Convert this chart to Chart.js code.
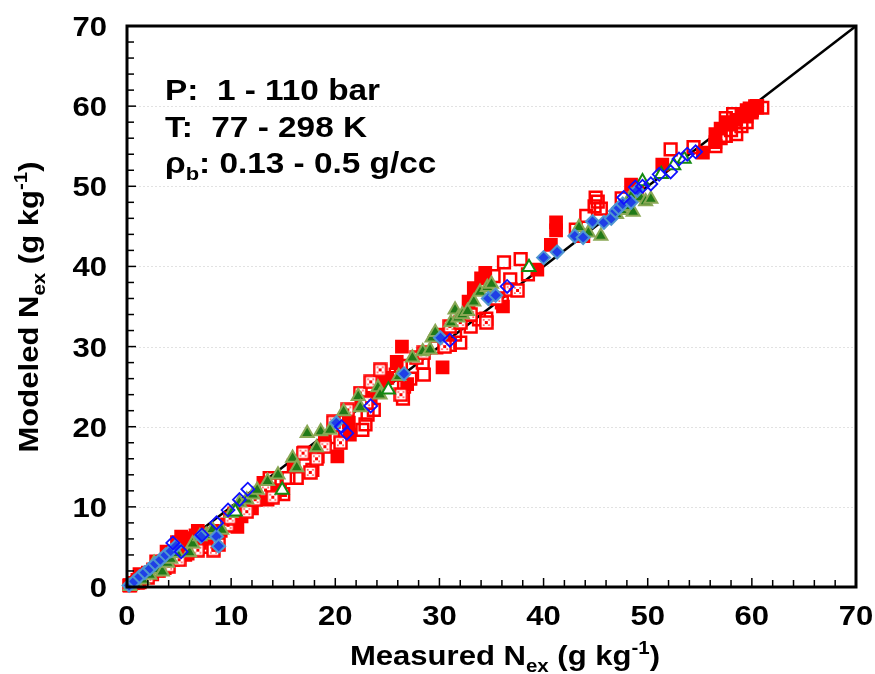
<!DOCTYPE html>
<html>
<head>
<meta charset="utf-8">
<script src="https://cdn.jsdelivr.net/npm/chart.js@4.4.0/dist/chart.umd.min.js"></script>
<style>
  html, body { margin: 0; padding: 0; background: #fff; }
</style>
</head>
<body>
<canvas id="parity-chart" width="875" height="674"></canvas>
<script>
// axis range and labels
const axisMin = 0;
const axisMax = 70;
const tickLabels = [0, 10, 20, 30, 40, 50, 60, 70];
const minorStep = 2;

// red open squares
const redOpenX = [0.3, 1.2, 2.4, 3.6, 4.4, 5.8, 7.4, 6.6, 13.7, 14.2, 15.5, 16.3, 15, 17.8, 13.2,
  18.3, 19.8, 22.9, 23.1, 23.7, 22.6, 25.8, 26.3, 28.4, 28.5, 26.5, 26.6, 27.2,
  29.7, 31, 31.5, 32, 33, 33.8, 34.5, 36, 35.2, 36.2, 37.8, 36.8, 38.5,
  43.1, 43.8, 44.1, 44.9, 45.2, 45.5, 45, 47.5, 48.9, 52.2, 54.4,
  56.5, 57, 57.5, 57.5, 58, 58.2, 58.5, 59, 59.5, 59.8, 60, 60.5, 61];
const redOpenY = [0.2, 0.6, 1.6, 2.4, 3.4, 4.2, 5, 6.4, 13.6, 12.8, 13.6, 13.6, 11.6, 14.6, 11,
  16.3, 18.7, 20.3, 21.5, 22.1, 19.6, 26.5, 27.6, 28, 26.5, 23.5, 25, 26,
  29.9, 30.2, 31.5, 30.5, 32.5, 33.4, 33.5, 35.5, 38.8, 40.5, 40.9, 38.4, 39,
  44.6, 43.8, 46.3, 47.5, 48.1, 47.2, 48.6, 48.5, 49.5, 54.6, 54.9,
  55, 56, 56.3, 58.5, 57, 59, 56.5, 57.5, 58, 59.7, 59.5, 60, 59.8];

// red filled squares
const redFillX = [0.2, 0.6, 1, 1.5, 2, 2.5, 3, 3.5, 4, 4.5, 5, 5.5, 6, 6.5, 5.2, 4.8, 7, 7.6, 6.2, 5.6, 9.6, 10.6, 10.3, 11,
  1.2, 2.8, 3.8, 6.8, 8, 9, 11.5, 12,
  12.6, 13.1, 13.5, 14.7, 14.2, 16, 17, 19, 20.2, 21.4, 21.3, 22.5, 23.4, 24.2, 24.7, 25, 25.9, 26.4, 26.9, 30.3,
  30.5, 32.8, 33.3, 34, 34.4, 36.1, 39.4, 40.7, 41.2, 41.2, 48.4, 49, 51.4, 55.3,
  56.5, 56.5, 57, 57.5, 58, 58.5, 59, 59.5, 59.5, 60, 60.3, 60.5];
const redFillY = [0.2, 0.5, 0.9, 1.2, 1.8, 2.2, 2.7, 3.2, 3.6, 4.1, 4.6, 5.2, 5.8, 6.1, 6.3, 5.6, 5.5, 6.6, 4.8, 4, 7.8, 7.5, 9.2, 8.8,
  1.6, 3.2, 4.4, 7, 6, 7, 10, 9.8,
  11, 13, 10.9, 12.1, 11.8, 15.2, 16.8, 18.4, 16.3, 19, 20.5, 22.8, 23.6, 25, 26.1, 26.1, 28.1, 30, 25.3, 27.4,
  31.5, 35.6, 37.3, 38.5, 39.2, 35, 39.6, 42.7, 45.5, 44.5, 50.2, 49.5, 52.7, 54.2,
  55.5, 56.5, 57.2, 58, 57.7, 58.3, 58.8, 58.7, 59.5, 59.2, 60, 59.8];

// red patterned squares
const redDotX = [1, 2, 3, 4, 5, 6.8, 8.3, 8.8, 9.7, 9.9, 11.5, 12.3, 13.3, 14,
  16.9, 17.6, 18.2, 19, 19.8, 20.5, 21.2, 22.4, 23, 23.4, 24.3, 26.3, 27.8, 28.5,
  30.5, 31, 32, 33, 34.5, 35.5, 36.8, 37.5];
const redDotY = [0.6, 1.2, 2, 2.6, 3.4, 4.6, 4.6, 5.3, 7.7, 8.6, 9.4, 10.9, 12.1, 11.2,
  16.7, 14.3, 16, 17.5, 20.6, 18, 22.1, 24.2, 23, 25.6, 27.1, 24, 28.6, 29.2,
  30, 32.5, 33, 34, 33, 36, 37.1, 37];

// green patterned triangles
const greenX = [0.3, 0.8, 1.5, 2.2, 3, 3.4, 3.9, 4.2, 4.8, 2.6, 6, 6.3, 7, 7.6, 8.2, 9.1, 10, 10.8, 11.5, 12.1, 12.5, 13.5, 14.5,
  15.9, 16.3, 17.3, 18.2, 18.6, 19.5, 20.8, 22.2, 22.4, 24.1, 24.3, 26.1, 27.4, 28.4, 29.1, 29.3,
  29.6, 31.1, 31.5, 31.8, 32.2, 32.7, 33.3, 33.9, 34.6, 35,
  43.4, 44.3, 45.5, 47, 47.5, 48, 48.4, 48.6, 49.3, 49.8, 50.3];
const greenY = [0.1, 0.5, 0.9, 1.5, 2.2, 1.9, 3, 3.5, 4.2, 3, 4.3, 5.4, 6.3, 6.5, 7.2, 7.1, 9.2, 10.5, 10.9, 11.5, 12.1, 13.2, 14,
  16.1, 14.9, 19.2, 17.4, 19.4, 19.6, 21.9, 23.8, 22.4, 24.9, 24, 26.3, 28.6, 29.4, 29.6, 31.1,
  31.8, 33, 34.6, 33.6, 34, 34.4, 35.6, 36.8, 37.4, 37.8,
  44.9, 44.2, 43.8, 46.5, 47, 47.5, 48.8, 46.8, 48.6, 48.1, 48.4];

// green open triangles
const greenOpenX = [10.4, 14.9, 25.1, 38.6, 49.5, 51.3, 52.5, 53.5];
const greenOpenY = [9.4, 12.1, 24.6, 39.9, 50.6, 51.5, 52.6, 53.4];

// blue patterned diamonds
const blueX = [0.2, 0.7, 1.2, 1.7, 2.2, 2.7, 3.2, 3.7, 4.2, 4.7, 7.1, 8.6, 8.8,
  20.1, 26.6, 30.1, 34.7, 35.4, 40, 41.3, 43, 43.8, 44.7, 45.8, 46.5, 46.9, 47.2, 47.6, 48.4, 49];
const blueY = [0.2, 0.7, 1.3, 1.8, 2.3, 2.9, 3.4, 4, 4.5, 5.1, 6.3, 6.3, 5.1,
  20.5, 26.6, 31.1, 36, 36.4, 41.1, 41.8, 43.8, 43.6, 45.6, 45.5, 46, 46.9, 47.3, 47.8, 48, 49.5];

// blue open diamonds
const blueOpenX = [4.4, 5.2, 7.2, 8.6, 9.7, 10.8, 11.6, 20.6, 21.1, 23.4, 31, 36.5,
  47.7, 48.8, 49.5, 50.3, 51.1, 52.2, 53, 53.8, 54.6];
const blueOpenY = [5.5, 4.4, 6.5, 8, 9.6, 10.9, 12.2, 20, 19.2, 22.6, 30.8, 37.5,
  48.6, 49.9, 50, 50.3, 51.5, 51.8, 53.4, 54, 54.3];

// 1:1 line
const parityX = [0, 70];
const parityY = [0, 70];

const notes = [
  [['P:  1 - 110 bar', '']],
  [['T:  77 - 298 K', '']],
  [['\u03C1', ''], ['b', 'sub'], [': 0.13 - 0.5 g/cc', '']]
];
const xTitle = [['Measured N', ''], ['ex', 'sub'], [' (g kg', ''], ['-1', 'sup'], [')', '']];
const yTitle = [['Modeled N', ''], ['ex', 'sub'], [' (g kg', ''], ['-1', 'sup'], [')', '']];

function toPoints(xs, ys) {
  return xs.map((v, i) => ({ x: v, y: ys[i] }));
}

// square with a white centre and red dots, like the excel pattern fill
function dotSquare() {
  const c = document.createElement('canvas');
  c.width = 15; c.height = 15;
  const g = c.getContext('2d');
  g.fillStyle = '#fff';
  g.fillRect(1, 1, 13, 13);
  g.strokeStyle = '#ff0000';
  g.lineWidth = 2.5;
  g.strokeRect(1.5, 1.5, 12, 12);
  g.fillStyle = '#ff0000';
  g.fillRect(6, 6, 3, 3);
  g.fillRect(4.2, 4.2, 1.4, 1.4);
  g.fillRect(9.4, 4.2, 1.4, 1.4);
  g.fillRect(4.2, 9.4, 1.4, 1.4);
  g.fillRect(9.4, 9.4, 1.4, 1.4);
  return c;
}

const FONT = '"Liberation Sans", Arial, sans-serif';
const STRETCH = 1.15;

function drawRich(ctx, parts, size, align) {
  let total = 0;
  const runs = parts.map(([t, k]) => {
    const fs = k ? size * 0.66 : size;
    ctx.font = 'bold ' + fs + 'px ' + FONT;
    const w = ctx.measureText(t).width;
    total += w;
    return { t, k, fs, w };
  });
  let cx = align === 'center' ? -total / 2 : (align === 'right' ? -total : 0);
  ctx.textAlign = 'left';
  ctx.textBaseline = 'alphabetic';
  ctx.fillStyle = '#000';
  runs.forEach(r => {
    ctx.font = 'bold ' + r.fs + 'px ' + FONT;
    const dy = r.k === 'sub' ? size * 0.25 : (r.k === 'sup' ? -size * 0.4 : 0);
    ctx.fillText(r.t, cx, dy);
    cx += r.w;
  });
}

const framePlugin = {
  id: 'frame',
  beforeDatasetsDraw(chart) {
    const { ctx, chartArea: a, scales: { y } } = chart;
    ctx.save();
    ctx.strokeStyle = '#e2e2e2';
    ctx.lineWidth = 1;
    ctx.setLineDash([2, 2]);
    tickLabels.slice(1, -1).forEach(v => {
      const py = Math.round(y.getPixelForValue(v)) + 0.5;
      ctx.beginPath();
      ctx.moveTo(a.left, py);
      ctx.lineTo(a.right, py);
      ctx.stroke();
    });
    ctx.restore();
  },
  afterDatasetsDraw(chart) {
    const { ctx, chartArea: a, scales: { x, y } } = chart;
    ctx.save();
    ctx.strokeStyle = '#000';
    ctx.lineWidth = 3;
    ctx.strokeRect(a.left, a.top, a.right - a.left, a.bottom - a.top);
    // inward ticks every 2 units
    ctx.lineWidth = 1.5;
    for (let v = axisMin; v <= axisMax; v += minorStep) {
      const len = v % 10 === 0 ? 9 : 7;
      const px = x.getPixelForValue(v);
      ctx.beginPath();
      ctx.moveTo(px, a.bottom);
      ctx.lineTo(px, a.bottom - len);
      ctx.stroke();
      const py = y.getPixelForValue(v);
      ctx.beginPath();
      ctx.moveTo(a.left, py);
      ctx.lineTo(a.left + len, py);
      ctx.stroke();
    }
    ctx.restore();
  },
  afterDraw(chart) {
    const { ctx, chartArea: a, scales: { x, y } } = chart;
    ctx.save();
    // tick labels
    tickLabels.forEach(v => {
      ctx.save();
      ctx.translate(x.getPixelForValue(v), a.bottom + 38);
      ctx.scale(STRETCH, 1);
      drawRich(ctx, [[String(v), '']], 27, 'center');
      ctx.restore();
      ctx.save();
      ctx.translate(a.left - 20, y.getPixelForValue(v) + 10);
      ctx.scale(STRETCH, 1);
      drawRich(ctx, [[String(v), '']], 27, 'right');
      ctx.restore();
    });
    // axis titles
    ctx.save();
    ctx.translate(505, 665);
    ctx.scale(STRETCH, 1);
    drawRich(ctx, xTitle, 27, 'center');
    ctx.restore();
    ctx.save();
    ctx.translate(38, 307);
    ctx.rotate(-Math.PI / 2);
    ctx.scale(STRETCH, 1);
    drawRich(ctx, yTitle, 27, 'center');
    ctx.restore();
    // condition notes
    notes.forEach((parts, i) => {
      ctx.save();
      ctx.translate(165, 100 + i * 36.5);
      ctx.scale(STRETCH, 1);
      drawRich(ctx, parts, 29, 'left');
      ctx.restore();
    });
    ctx.restore();
  }
};

const ctx = document.getElementById('parity-chart').getContext('2d');
new Chart(ctx, {
  type: 'scatter',
  data: {
    datasets: [
      {
        label: 'blue open',
        data: toPoints(blueOpenX, blueOpenY),
        pointStyle: 'rectRot',
        pointRadius: 6.5,
        borderWidth: 1.8,
        borderColor: '#1010ff',
        backgroundColor: 'rgba(255,255,255,0)'
      },
      {
        label: 'blue',
        data: toPoints(blueX, blueY),
        pointStyle: 'rectRot',
        pointRadius: 6.5,
        borderWidth: 2,
        borderColor: '#4f96d0',
        backgroundColor: '#1f3fe6'
      },
      {
        label: 'green open',
        data: toPoints(greenOpenX, greenOpenY),
        pointStyle: 'triangle',
        pointRadius: 7.5,
        borderWidth: 2,
        borderColor: '#128a12',
        backgroundColor: '#ffffff'
      },
      {
        label: 'green',
        data: toPoints(greenX, greenY),
        pointStyle: 'triangle',
        pointRadius: 7.5,
        borderWidth: 2,
        borderColor: '#8aa856',
        backgroundColor: '#207a18'
      },
      {
        label: 'red dotted',
        data: toPoints(redDotX, redDotY),
        pointStyle: dotSquare(),
        pointRadius: 7.5
      },
      {
        label: 'red open',
        data: toPoints(redOpenX, redOpenY),
        pointStyle: 'rect',
        pointRadius: 8.3,
        borderWidth: 2.5,
        borderColor: '#ff0000',
        backgroundColor: 'rgba(255,255,255,0)'
      },
      {
        label: 'red filled',
        data: toPoints(redFillX, redFillY),
        pointStyle: 'rect',
        pointRadius: 8.3,
        borderWidth: 2,
        borderColor: '#ff0000',
        backgroundColor: '#ff0000'
      },
      {
        type: 'line',
        label: '1:1',
        data: toPoints(parityX, parityY),
        borderColor: '#000',
        borderWidth: 2.5,
        pointRadius: 0,
        fill: false
      }
    ].map(d => Object.assign({ clip: false, pointHoverRadius: d.pointRadius }, d))
  },
  options: {
    responsive: false,
    animation: false,
    events: [],
    layout: { padding: { left: 0, right: 19, top: 26, bottom: 0 } },
    plugins: { legend: { display: false }, tooltip: { enabled: false } },
    scales: {
      x: {
        type: 'linear',
        min: axisMin,
        max: axisMax,
        grid: { display: false },
        border: { display: false },
        ticks: { display: false },
        afterFit: scale => { scale.height = 87; }
      },
      y: {
        type: 'linear',
        min: axisMin,
        max: axisMax,
        grid: { display: false },
        border: { display: false },
        ticks: { display: false },
        afterFit: scale => { scale.width = 127; }
      }
    }
  },
  plugins: [framePlugin]
});
</script>
</body>
</html>
